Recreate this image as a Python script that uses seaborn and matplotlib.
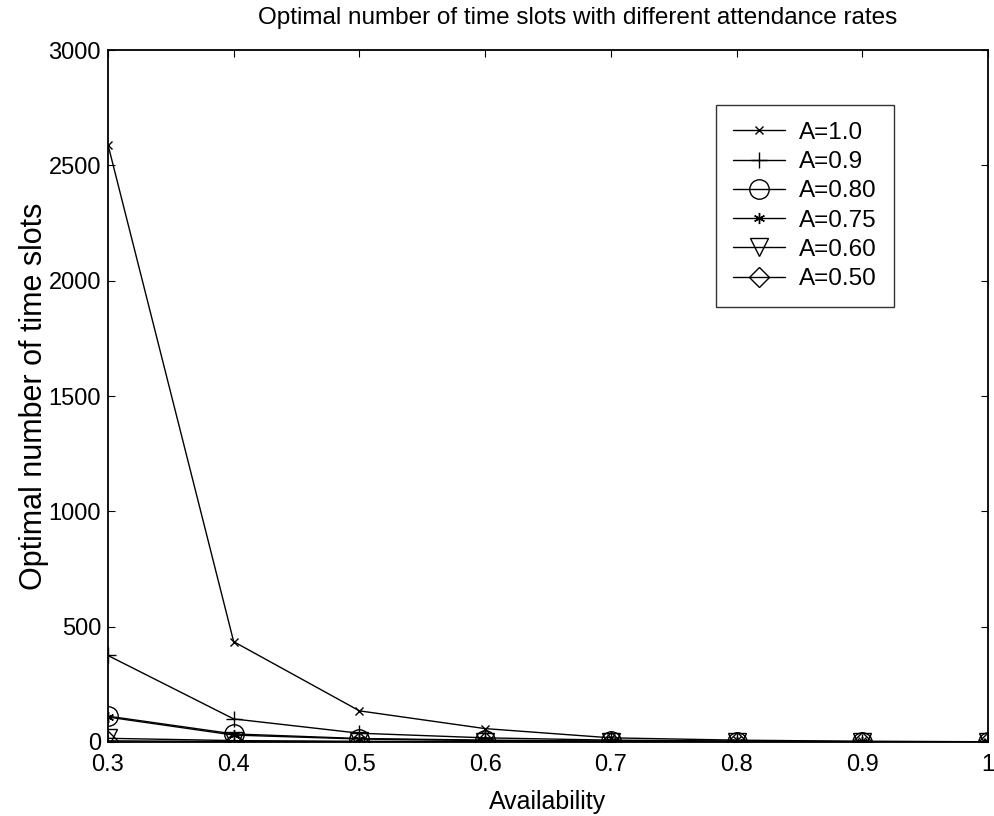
import seaborn as sns
import matplotlib.pyplot as plt
import pandas as pd

availability = [0.3, 0.4, 0.5, 0.6, 0.7, 0.8, 0.9, 1.0]
a_100 = [2590, 435, 135, 58, 18, 8, 3, 1]
a_090 = [375, 100, 38, 18, 8, 4, 2, 1]
a_080 = [112, 35, 15, 8, 4, 2, 1, 1]
a_075 = [108, 30, 13, 6, 3, 2, 1, 1]
a_060 = [16, 6, 3, 2, 1, 1, 1, 1]
a_050 = [5, 2, 1, 1, 1, 1, 1, 1]

series_labels = ["A=1.0", "A=0.9", "A=0.80", "A=0.75", "A=0.60", "A=0.50"]
series_values = [a_100, a_090, a_080, a_075, a_060, a_050]
x_ticks = [0.3, 0.4, 0.5, 0.6, 0.7, 0.8, 0.9, 1.0]
x_tick_labels = ["0.3", "0.4", "0.5", "0.6", "0.7", "0.8", "0.9", "1"]
y_ticks = [0, 500, 1000, 1500, 2000, 2500, 3000]

# marker, size for each series (matlab-ish look)
marker_styles = [("x", 6), ("+", 11), ("o", 14), ((6, 2, 0), 8), ("v", 13), ("D", 10)]

sns.set_style("ticks")
plt.rcParams["font.family"] = ["Liberation Sans", "DejaVu Sans"]
plt.rcParams["text.color"] = "black"
plt.rcParams["axes.labelcolor"] = "black"
plt.rcParams["xtick.color"] = "black"
plt.rcParams["ytick.color"] = "black"

fig = plt.figure(figsize=(9.95, 8.16), dpi=100)
ax = fig.add_axes([0.1085, 0.0907, 0.8845, 0.848])

for label, values, (marker, ms) in zip(series_labels, series_values, marker_styles):
    df = pd.DataFrame({"Availability": availability, "slots": values})
    sns.lineplot(
        data=df,
        x="Availability",
        y="slots",
        ax=ax,
        color="black",
        linewidth=1,
        marker=marker,
        markersize=ms,
        markerfacecolor="none",
        markeredgecolor="black",
        markeredgewidth=1,
        label=label,
    )

ax.set_xlim(0.3, 1.0)
ax.set_ylim(0, 3000)
ax.set_xticks(x_ticks)
ax.set_xticklabels(x_tick_labels)
ax.set_yticks(y_ticks)
ax.tick_params(direction="in", top=True, right=True, labelsize=17, length=5)
ax.tick_params(axis="x", pad=9)
ax.tick_params(axis="y", pad=5)
for side in ["left", "bottom", "top", "right"]:
    ax.spines[side].set_visible(True)
    ax.spines[side].set_linewidth(1.3)
    ax.spines[side].set_color("black")

ax.set_xlabel("Availability", fontsize=18, labelpad=10)
ax.set_ylabel("Optimal number of time slots", fontsize=22, labelpad=0)
ax.set_title("Optimal number of time slots with different attendance rates",
             fontsize=17.5, pad=19, x=0.534)

leg = ax.legend(
    loc="upper right",
    bbox_to_anchor=(0.893, 0.921),
    fontsize=17.5,
    frameon=True,
    fancybox=False,
    edgecolor="black",
    handlelength=2.1,
    handletextpad=0.6,
    labelspacing=0.3,
    borderpad=0.7,
    borderaxespad=0,
)
leg.get_frame().set_linewidth(1)

fig.savefig("out.png", dpi=100)
